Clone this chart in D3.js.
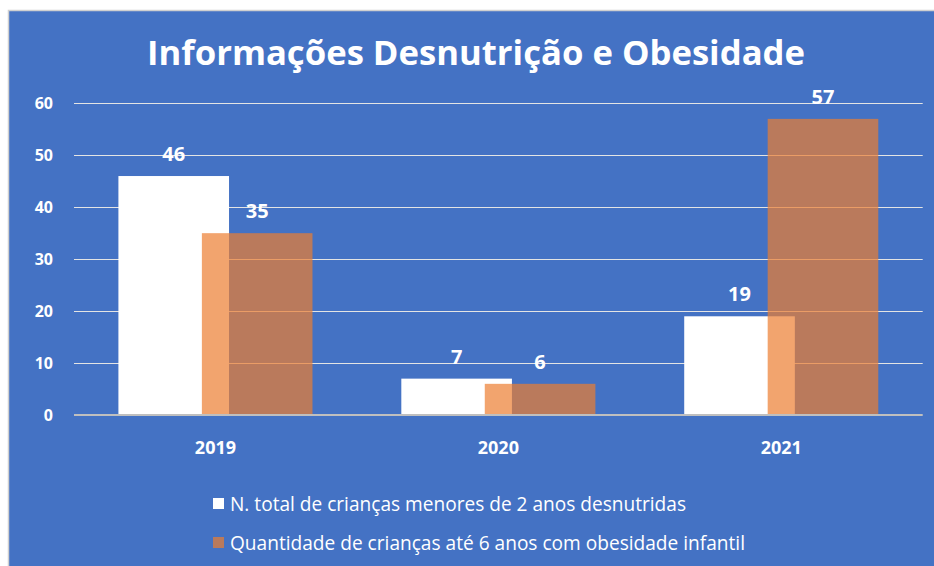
<!DOCTYPE html>
<html>
<head>
<meta charset="utf-8">
<script src="https://cdn.jsdelivr.net/npm/d3@7"></script>
<style>
  body { margin: 0; background: #fff; }
  svg { display: block; font-family: "Open Sans", sans-serif; }
</style>
</head>
<body>
<div id="chart"></div>
<script>
// Chart data
const years = ["2019", "2020", "2021"];
const desnutridas = [46, 7, 19];
const obesidade = [35, 6, 57];
const seriesNames = [
    "N. total de crianças menores de 2 anos desnutridas",
    "Quantidade de crianças até 6 anos com obesidade infantil"
];
const yTicks = [0, 10, 20, 30, 40, 50, 60];

const W = 934, H = 566;
const svg = d3.select("#chart").append("svg")
    .attr("width", W)
    .attr("height", H);

// blue panel with light grey frame
svg.append("rect")
    .attr("x", 8.5).attr("y", 10.5)
    .attr("width", W).attr("height", H)
    .attr("fill", "#4472C4")
    .attr("stroke", "#D0D0D0")
    .attr("stroke-width", 1.5);

svg.append("text")
    .attr("x", 476).attr("y", 65)
    .attr("text-anchor", "middle")
    .attr("fill", "white")
    .attr("font-weight", "bold")
    .attr("font-size", 34)
    .attr("textLength", 658)
    .attr("lengthAdjust", "spacingAndGlyphs")
    .text("Informações Desnutrição e Obesidade");

const x = d3.scaleBand().domain(years).range([74, 922.7]).padding(0);
const y = d3.scaleLinear().domain([0, 60]).range([415, 103.3]);

// gridlines
svg.append("g").selectAll("line")
    .data(yTicks.filter(d => d > 0))
    .join("line")
    .attr("x1", 74).attr("x2", 922.7)
    .attr("y1", d => Math.round(y(d)) + 0.5).attr("y2", d => Math.round(y(d)) + 0.5)
    .attr("stroke", "#E4E4E4")
    .attr("stroke-width", 1.2);

// y tick labels
svg.append("g").selectAll("text")
    .data(yTicks)
    .join("text")
    .attr("x", 53)
    .attr("y", d => y(d) + 6)
    .attr("text-anchor", "end")
    .attr("fill", "white")
    .attr("font-weight", "bold")
    .attr("font-size", 16)
    .text(d => d);

// bars: widths / offsets as fractions of the category band
const bw = x.bandwidth() * 0.391;
const off = x.bandwidth() * 0.295;
const pairLeft = d => x(d) + x.bandwidth() / 2 - (bw + off) / 2;

const series = [
    {name: seriesNames[0], values: desnutridas, fill: "#FFFFFF", opacity: 1, dx: 0},
    {name: seriesNames[1], values: obesidade, fill: "#ED7D31", opacity: 0.7, dx: off}
];

series.forEach(s => {
    const g = svg.append("g");
    g.selectAll("rect")
        .data(years)
        .join("rect")
        .attr("x", d => pairLeft(d) + s.dx)
        .attr("y", (d, i) => y(s.values[i]))
        .attr("width", bw)
        .attr("height", (d, i) => y(0) - y(s.values[i]))
        .attr("fill", s.fill)
        .attr("fill-opacity", s.opacity);
});

// data labels
series.forEach(s => {
    svg.append("g").selectAll("text")
        .data(years)
        .join("text")
        .attr("x", d => pairLeft(d) + s.dx + bw / 2)
        .attr("y", (d, i) => y(s.values[i]) - 15)
        .attr("text-anchor", "middle")
        .attr("fill", "white")
        .attr("font-weight", "bold")
        .attr("font-size", 20)
        .text((d, i) => s.values[i]);
});

// baseline axis
svg.append("line")
    .attr("x1", 74).attr("x2", 922.7)
    .attr("y1", y(0)).attr("y2", y(0))
    .attr("stroke", "#BFBFBF")
    .attr("stroke-width", 2);

// x labels
svg.append("g").selectAll("text")
    .data(years)
    .join("text")
    .attr("x", d => x(d) + x.bandwidth() / 2)
    .attr("y", 454)
    .attr("text-anchor", "middle")
    .attr("fill", "white")
    .attr("font-weight", "bold")
    .attr("font-size", 18)
    .text(d => d);

// legend
const legendLens = [456, 515];
const legend = svg.append("g").selectAll("g")
    .data(series)
    .join("g")
    .attr("transform", (d, i) => `translate(213,${498 + i * 39})`);
legend.append("rect")
    .attr("width", 11).attr("height", 11)
    .attr("fill", d => d.fill)
    .attr("fill-opacity", d => d.opacity);
legend.append("text")
    .attr("x", 17).attr("y", 12.5)
    .attr("fill", "white")
    .attr("font-size", 20)
    .attr("textLength", (d, i) => legendLens[i])
    .attr("lengthAdjust", "spacingAndGlyphs")
    .text(d => d.name);
</script>
</body>
</html>
